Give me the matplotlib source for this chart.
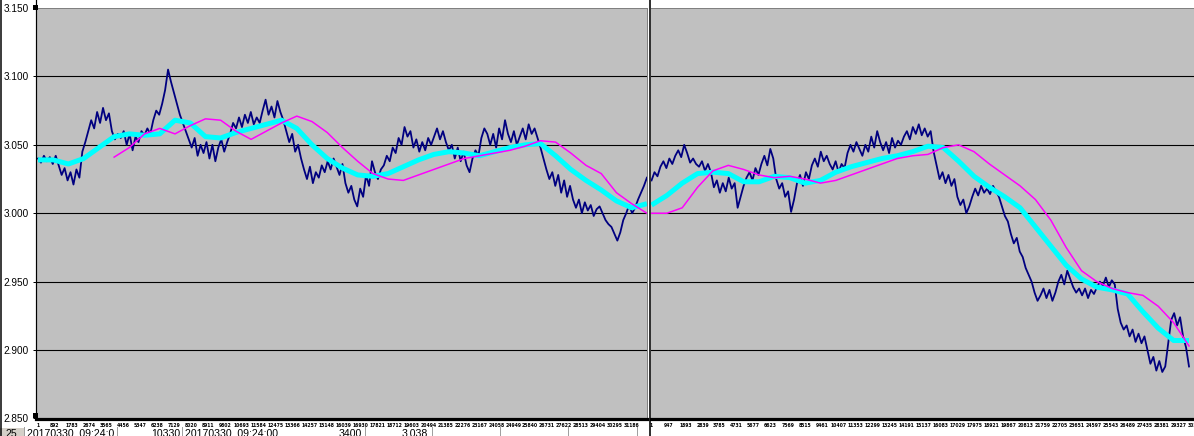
import matplotlib
matplotlib.use('Agg')
import matplotlib.pyplot as plt
import numpy as np
from matplotlib.lines import Line2D
from matplotlib.patches import Rectangle

# ---------------- data ----------------
left_price = [
    3.040, 3.037, 3.042, 3.038, 3.041, 3.036, 3.042,
    3.035, 3.028, 3.033, 3.024, 3.030,
    3.021, 3.032, 3.026,
    3.045, 3.052, 3.060,
    3.068, 3.062, 3.074, 3.066, 3.077, 3.068, 3.073,
    3.060, 3.054, 3.058,
    3.055, 3.060, 3.050, 3.058, 3.046, 3.056, 3.052, 3.060,
    3.057, 3.062, 3.058,
    3.068, 3.075, 3.072, 3.080,
    3.090, 3.105, 3.096,
    3.088, 3.080, 3.072, 3.066, 3.060, 3.054,
    3.048, 3.055, 3.042, 3.050, 3.044,
    3.052, 3.040, 3.050, 3.038, 3.048, 3.054, 3.045, 3.052,
    3.058, 3.066, 3.062,
    3.070, 3.063, 3.072, 3.066, 3.074, 3.065, 3.070, 3.066,
    3.075, 3.083, 3.072, 3.078, 3.070, 3.082, 3.074,
    3.068, 3.060, 3.052, 3.058, 3.045, 3.050, 3.040,
    3.032, 3.025, 3.034, 3.022, 3.030, 3.026, 3.035,
    3.030, 3.038, 3.032, 3.040, 3.034, 3.028, 3.036,
    3.022, 3.015, 3.020, 3.010, 3.005,
    3.018, 3.012, 3.028, 3.020, 3.038,
    3.030, 3.025, 3.032,
    3.035, 3.042, 3.038, 3.048, 3.044,
    3.055, 3.050, 3.063, 3.056, 3.060,
    3.048, 3.054, 3.045, 3.052, 3.046, 3.055, 3.050,
    3.056, 3.062, 3.054, 3.060, 3.052,
    3.046, 3.050, 3.040, 3.048, 3.038, 3.045, 3.035, 3.030,
    3.040, 3.046, 3.042,
    3.055, 3.062, 3.058,
    3.050, 3.058, 3.048, 3.062, 3.054, 3.068, 3.058, 3.052, 3.060, 3.050,
    3.056, 3.062, 3.054, 3.065, 3.058, 3.062, 3.055,
    3.048, 3.040, 3.032, 3.025, 3.030,
    3.020, 3.028, 3.015, 3.024, 3.012, 3.020, 3.010,
    3.004, 3.010, 3.000, 3.008, 3.002, 3.006, 2.998, 3.003,
    3.005, 3.000, 2.995, 2.992, 2.990,
    2.985, 2.980, 2.986,
    2.995, 3.000, 3.006, 3.000, 3.004,
    3.010, 3.015, 3.020, 3.026,
]

right_price = [
    3.024, 3.030, 3.027,
    3.034, 3.038, 3.033, 3.040, 3.036,
    3.042, 3.046, 3.041, 3.050, 3.044,
    3.037, 3.040, 3.036,
    3.034, 3.038, 3.031, 3.036, 3.030,
    3.019, 3.024, 3.015, 3.022, 3.016, 3.026, 3.018, 3.022,
    3.004, 3.012, 3.020,
    3.026, 3.030, 3.024, 3.033, 3.028,
    3.036, 3.042, 3.035, 3.047, 3.040,
    3.025, 3.018, 3.022, 3.012, 3.016,
    3.001, 3.010,
    3.022, 3.028, 3.020, 3.030, 3.025,
    3.035, 3.040, 3.034, 3.045, 3.038, 3.042, 3.036,
    3.032, 3.038, 3.030, 3.036, 3.033,
    3.044, 3.050, 3.045, 3.052, 3.047,
    3.042, 3.050, 3.045, 3.056, 3.048, 3.060, 3.052,
    3.046, 3.052, 3.044, 3.055, 3.048, 3.053, 3.050,
    3.056, 3.060, 3.054, 3.063, 3.058, 3.065, 3.057, 3.062,
    3.056, 3.060,
    3.045, 3.035, 3.025,
    3.030, 3.022, 3.028, 3.020, 3.025,
    3.012, 3.006, 3.010, 3.000, 3.005,
    3.012, 3.018, 3.013, 3.020, 3.015,
    3.018, 3.014, 3.020, 3.016, 3.012,
    3.005, 2.998, 2.994,
    2.985, 2.978, 2.982, 2.972, 2.968,
    2.960, 2.955, 2.950,
    2.942, 2.936, 2.940,
    2.945, 2.938, 2.944, 2.936, 2.942,
    2.950, 2.955, 2.948, 2.958, 2.952,
    2.946, 2.942, 2.945,
    2.940, 2.945, 2.938, 2.944, 2.941,
    2.946, 2.950, 2.947, 2.953, 2.946, 2.951, 2.948,
    2.930, 2.920, 2.915,
    2.918, 2.910, 2.915, 2.906, 2.912, 2.905, 2.910,
    2.900, 2.890, 2.895, 2.885, 2.892, 2.884, 2.888,
    2.905, 2.922,
    2.927, 2.918, 2.924,
    2.910, 2.902, 2.888,
]

left_ma_fast = [
    3.039, 3.039, 3.036, 3.040, 3.048, 3.056, 3.058, 3.057, 3.058, 3.068,
    3.066, 3.056, 3.055, 3.059, 3.062, 3.065, 3.068, 3.062, 3.050, 3.040,
    3.033, 3.028, 3.027, 3.029, 3.034, 3.039, 3.043, 3.045, 3.044, 3.042,
    3.045, 3.048, 3.050, 3.051, 3.042, 3.032, 3.024, 3.017, 3.009, 3.004,
    3.007,
]
left_ma_slow = [
    np.nan, np.nan, np.nan, np.nan, np.nan,
    3.041, 3.048, 3.058, 3.062, 3.058,
    3.064, 3.069, 3.068, 3.060, 3.054, 3.060, 3.066, 3.071, 3.067, 3.059,
    3.048, 3.038, 3.029, 3.025, 3.024, 3.028, 3.032, 3.036, 3.040, 3.042,
    3.044, 3.046, 3.049, 3.053, 3.052, 3.044, 3.035, 3.029, 3.015, 3.007,
    3.000,
]
right_ma_fast = [
    3.006, 3.013, 3.022, 3.029, 3.030, 3.029, 3.023, 3.023, 3.027, 3.026,
    3.022, 3.024, 3.030, 3.034, 3.037, 3.040, 3.042, 3.045, 3.049, 3.048,
    3.038, 3.027, 3.019, 3.012, 3.004, 2.990, 2.976, 2.962, 2.952, 2.946,
    2.944, 2.941, 2.928, 2.916, 2.907, 2.907,
]
right_ma_slow = [
    3.000, 3.000, 3.004, 3.019, 3.031, 3.035, 3.032, 3.028, 3.026, 3.027,
    3.025, 3.022, 3.024, 3.028, 3.032, 3.036, 3.040, 3.042, 3.043, 3.048,
    3.050, 3.045, 3.036, 3.028, 3.020, 3.010, 2.995, 2.975, 2.958, 2.950,
    2.945, 2.942, 2.940, 2.932, 2.920, 2.903,
]

left_ticks = [1, 892, 1783, 2674, 3565, 4456, 5347, 6238, 7129, 8020, 8911,
              9802, 10693, 11584, 12475, 13366, 14257, 15148, 16039, 16930,
              17821, 18712, 19603, 20494, 21385, 22276, 23167, 24058, 24949,
              25840, 26731, 27622, 28513, 29404, 30295, 31186]
right_ticks = [1, 947, 1893, 2839, 3785, 4731, 5677, 6623, 7569, 8515, 9461,
               10407, 11353, 12299, 13245, 14191, 15137, 16083, 17029, 17975,
               18921, 19867, 20813, 21759, 22705, 23651, 24597, 25543, 26489,
               27435, 28381, 29327, 30273]
y_ticks = [2.85, 2.90, 2.95, 3.00, 3.05, 3.10, 3.15]
y_labels = ['2.850', '2.900', '2.950', '3.000', '3.050', '3.100', '3.150']

left_last = 31970
right_last = 29885

# ---------------- figure ----------------
W, H = 1194, 436
fig = plt.figure(figsize=(W / 100, H / 100), dpi=100)
fig.patch.set_facecolor('white')
PX = 72 / 100  # points per pixel


def px_axes(x0, y0, x1, y1):
    return fig.add_axes([x0 / W, 1 - y1 / H, (x1 - x0) / W, (y1 - y0) / H])


GRAY_BG = '#C0C0C0'
NAVY = '#000080'
CYAN = '#00FFFF'
MAGENTA = '#FF00FF'


def style(ax, xlim, ticks, show_y):
    ax.set_facecolor(GRAY_BG)
    ax.set_ylim(2.85, 3.15)
    ax.set_xlim(*xlim)
    ax.set_yticks(y_ticks)
    if show_y:
        ax.set_yticklabels(y_labels, fontsize=7.2, family='Liberation Sans')
        ax.tick_params(axis='y', length=3 * PX, width=1 * PX,
                       pad=3, colors='black')
    else:
        ax.tick_params(axis='y', length=0, labelleft=False)
    for v in y_ticks[1:-1]:
        ax.axhline(v, color='black', lw=1.1 * PX, zorder=1)
    ax.set_xticks(ticks)
    ax.set_xticklabels([str(t) for t in ticks], fontsize=3.3,
                       fontweight='bold', family='DejaVu Sans')
    ax.tick_params(axis='x', length=0, pad=3.5)
    for s in ('top', 'right'):
        ax.spines[s].set_color('#808080')
        ax.spines[s].set_linewidth(1 * PX)
    ax.spines['left'].set_visible(False)
    ax.spines['bottom'].set_color('black')
    ax.spines['bottom'].set_linewidth(3.2 * PX)


# left chart
axL = px_axes(36, 8, 647, 418.5)
style(axL, (-104, 31975), left_ticks, True)
xl = np.linspace(1, left_last, len(left_price))
axL.plot(xl, left_price, color=NAVY, lw=1.8 * PX, zorder=3)
xlm = np.linspace(1, left_last, len(left_ma_fast))
axL.plot(xlm, left_ma_fast, color=CYAN, lw=5 * PX, zorder=4,
         solid_capstyle='butt')
axL.plot(xlm, left_ma_slow, color=MAGENTA, lw=1.5 * PX, zorder=5)

# right chart (cut off at the image edge)
axR = px_axes(651, 8, 1215, 418.5)
style(axR, (-28, -28 + 564 * 55.6), right_ticks, False)
axR.spines['right'].set_visible(False)
xr = np.linspace(1, right_last, len(right_price))
axR.plot(xr, right_price, color=NAVY, lw=1.8 * PX, zorder=3)
xrm = np.linspace(1, right_last, len(right_ma_fast))
axR.plot(xrm, right_ma_fast, color=CYAN, lw=5 * PX, zorder=4,
         solid_capstyle='butt')
axR.plot(xrm, right_ma_slow, color=MAGENTA, lw=1.5 * PX, zorder=5)


# ---------------- frame lines & worksheet remnants ----------------
def fline(x0, y0, x1, y1, color='black', lw=1.0):
    fig.add_artist(Line2D([x0 / W, x1 / W], [1 - y0 / H, 1 - y1 / H],
                          color=color, lw=lw * PX, zorder=10))


fline(0.5, 0, 0.5, 436, lw=1.5)
fline(35.5, 0, 35.5, 419, lw=1.2)
fline(650, 0, 650, 436, lw=1.6)

# selection handles
for (hx, hy) in [(33, 5), (33, 413)]:
    fig.add_artist(Rectangle((hx / W, 1 - (hy + 5) / H), 5 / W, 5 / H,
                             transform=fig.transFigure, facecolor='black',
                             edgecolor='none', zorder=11))

# spreadsheet cells showing below the charts
fig.add_artist(Rectangle((0, 0), 24 / W, 8 / H, transform=fig.transFigure,
                         facecolor='#D4D0C8', edgecolor='none', zorder=9))
for cx in [24, 117, 182, 365, 432, 500, 568, 637]:
    fline(cx, 427, cx, 436, color='#A0A0A0', lw=1.0)

cell_font = dict(fontsize=7.6, family='Liberation Sans', va='top',
                 color='black', zorder=12)
fig.text(6 / W, 1 - 429 / H, '25', ha='left', **cell_font)
fig.text(27 / W, 1 - 429 / H, '20170330  09:24:0', ha='left', **cell_font)
fig.text(180 / W, 1 - 429 / H, '10330', ha='right', **cell_font)
fig.text(185 / W, 1 - 429 / H, '20170330  09:24:00', ha='left', **cell_font)
fig.text(362 / W, 1 - 429 / H, '3400', ha='right', **cell_font)
fig.text(428 / W, 1 - 429 / H, '3.038', ha='right', **cell_font)

fig.savefig('out.png', dpi=100)
